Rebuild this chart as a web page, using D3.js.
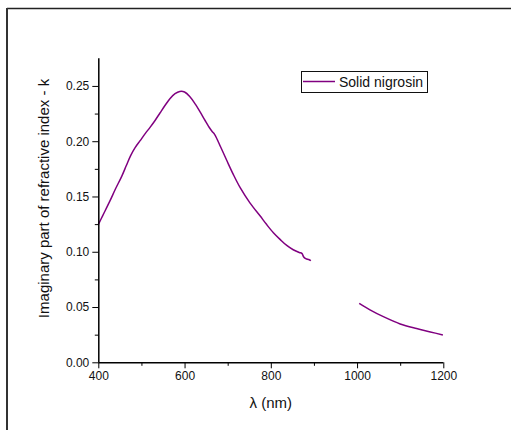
<!DOCTYPE html>
<html><head><meta charset="utf-8">
<script src="https://cdn.jsdelivr.net/npm/d3@7"></script>
<style>body{margin:0;background:#fff}svg{display:block}text{font-family:"Liberation Sans",Arial,sans-serif;fill:#111}</style>
</head><body>
<script>
const seriesName = "Solid nigrosin";
const lambda1 = [400,410,427,440,454,465,475,485,497,510,520,532,543,555,566,578,589,600,612,625,636,648,659,664,670,684,698,713,729,752,775,790,806,822,837,852,866,872,876,879,883,888,893];
const k1 = [0.1245,0.1325,0.146,0.157,0.168,0.178,0.187,0.194,0.2005,0.2075,0.2125,0.219,0.2255,0.2325,0.2385,0.243,0.245,0.2445,0.2405,0.2335,0.2265,0.2185,0.2115,0.2088,0.206,0.1945,0.1825,0.170,0.158,0.144,0.1325,0.1248,0.1172,0.111,0.1057,0.1018,0.0993,0.0985,0.0955,0.0942,0.0935,0.0930,0.0920];
const lambda2 = [1005,1030,1061,1100,1138,1170,1199];
const k2 = [0.0534,0.0475,0.0413,0.0347,0.0305,0.0275,0.0247];
const xTicks = [400,600,800,1000,1200];
const xMinor = [500,700,900,1100];
const yTicks = [0,0.05,0.10,0.15,0.20,0.25];
const yMinor = [0.025,0.075,0.125,0.175,0.225];

const W=511,H=430;
const svg=d3.select("body").append("svg").attr("width",W).attr("height",H);
// figure frame
svg.append("line").attr("x1",7).attr("y1",8.5).attr("x2",W).attr("y2",8.5).attr("stroke","#222").attr("stroke-width",1.6);
svg.append("line").attr("x1",7).attr("y1",8).attr("x2",7).attr("y2",H).attr("stroke","#333").attr("stroke-width",2);

const x=d3.scaleLinear().domain([400,1200]).range([98.3,443.3]);
const y=d3.scaleLinear().domain([0,0.275]).range([362.3,58.3]);

const purple="#800080";
const line=d3.line().x(d=>x(d[0])).y(d=>y(d[1])).curve(d3.curveCatmullRom.alpha(0.5));
[[lambda1,k1],[lambda2,k2]].forEach(([L,K])=>{
  svg.append("path").datum(L.map((l,i)=>[l,K[i]])).attr("d",line)
    .attr("fill","none").attr("stroke",purple).attr("stroke-width",1.5);
});

// axes
const xAx=svg.append("g").attr("transform",`translate(0,${y(0)})`)
  .call(d3.axisBottom(x).tickValues(xTicks).tickFormat(d3.format("d")).tickSize(6).tickPadding(3));
svg.append("g").attr("transform",`translate(0,${y(0)})`)
  .call(d3.axisBottom(x).tickValues(xMinor).tickFormat("").tickSize(3.5)).select(".domain").remove();
const yAx=svg.append("g").attr("transform",`translate(${x(400)},0)`)
  .call(d3.axisLeft(y).tickValues(yTicks).tickFormat(d3.format(".2f")).tickSize(6).tickPadding(3));
svg.append("g").attr("transform",`translate(${x(400)},0)`)
  .call(d3.axisLeft(y).tickValues(yMinor).tickFormat("").tickSize(3.5)).select(".domain").remove();
svg.selectAll(".domain").attr("stroke","#000").attr("stroke-width",1.5);
svg.selectAll(".tick line").attr("stroke","#000").attr("stroke-width",1);
svg.selectAll(".tick text").attr("font-size",12).attr("fill","#111").attr("font-family","Liberation Sans, Arial, sans-serif");
yAx.select(".domain").attr("d",`M0.5,${y(0)}V${y(0.275)}`);
xAx.select(".domain").attr("d",`M${x(400)},0.5H${x(1200)}`);

// titles
svg.append("text").attr("x",(x(400)+x(1200))/2).attr("y",408).attr("text-anchor","middle").attr("font-size",15).text("λ (nm)");
svg.append("text").attr("transform",`translate(49,${(74+323)/2}) rotate(-90)`).attr("text-anchor","middle").attr("font-size",15).text("Imaginary part of refractive index - k");

// legend
svg.append("rect").attr("x",301.5).attr("y",71.5).attr("width",126).attr("height",21).attr("fill","#fff").attr("stroke","#111").attr("stroke-width",1);
svg.append("line").attr("x1",303).attr("x2",335).attr("y1",81.5).attr("y2",81.5).attr("stroke",purple).attr("stroke-width",1.5);
svg.append("text").attr("x",339).attr("y",87).attr("font-size",14).text(seriesName);
</script>
</body></html>
